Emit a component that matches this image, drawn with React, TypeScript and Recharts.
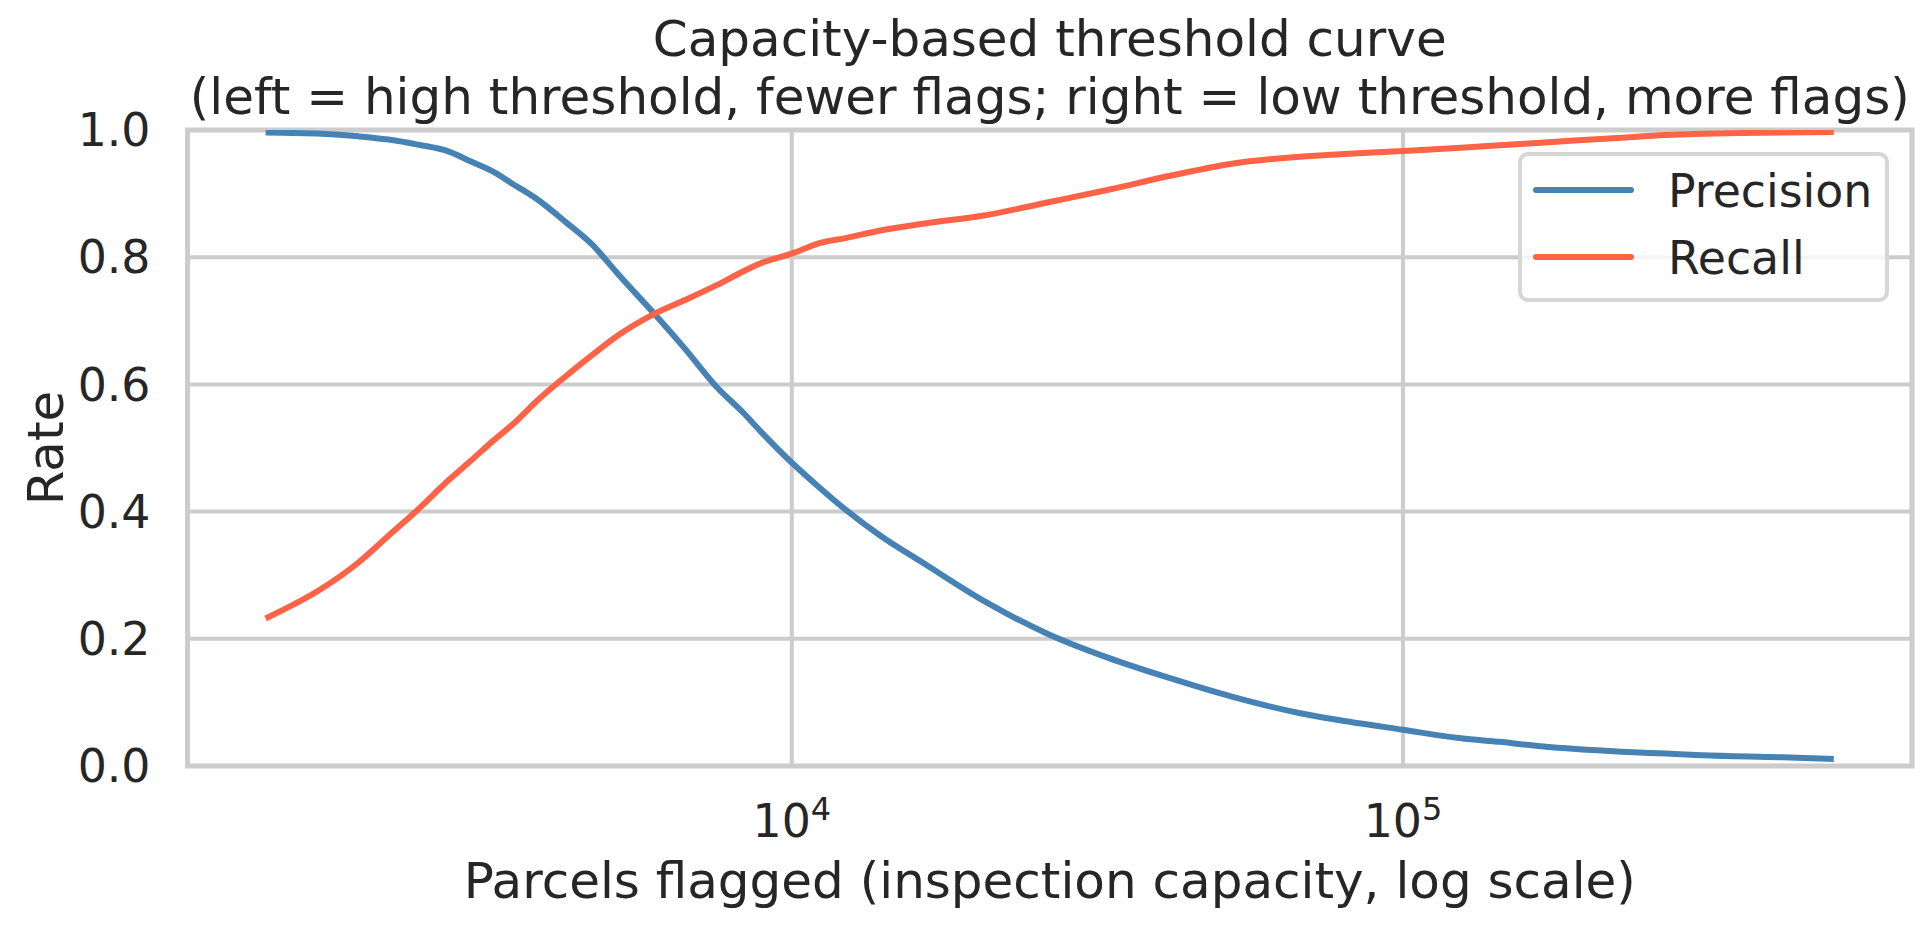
import { LineChart, Line, XAxis, YAxis, CartesianGrid, Legend, ReferenceArea } from 'recharts';

// parcels flagged (capacity) and the matching precision / recall at each point
const capacity = [
  1377, 1702, 1954, 2188, 2443, 2748, 2992, 3251, 3483, 3846,
  4256, 4710, 5212, 5957, 6699, 7534, 8337, 8913, 10023, 11092,
  12246, 13964, 16482, 20749, 26182, 32961, 41591, 52481, 67920, 78886,
  100000, 124451, 143880, 168267, 228034, 269774, 308319, 417830, 506991
];
const precision = [
  0.996, 0.994, 0.990, 0.985, 0.977, 0.966, 0.950, 0.934, 0.916, 0.890,
  0.856, 0.820, 0.772, 0.711, 0.655, 0.596, 0.555, 0.525, 0.476, 0.438,
  0.403, 0.362, 0.318, 0.258, 0.208, 0.170, 0.138, 0.109, 0.083, 0.072,
  0.057, 0.0435, 0.038, 0.031, 0.0225, 0.0195, 0.017, 0.0137, 0.011
];
const recall = [
  0.232, 0.279, 0.320, 0.362, 0.403, 0.450, 0.481, 0.512, 0.536, 0.576,
  0.612, 0.646, 0.678, 0.711, 0.733, 0.756, 0.778, 0.791, 0.806, 0.822,
  0.830, 0.842, 0.853, 0.866, 0.886, 0.906, 0.928, 0.947, 0.958, 0.962,
  0.967, 0.972, 0.976, 0.980, 0.988, 0.992, 0.994, 0.996, 0.997
];
const rateTicks = [0, 0.2, 0.4, 0.6, 0.8, 1.0];
const capacityTicks = [10000, 100000];
const xDomain = [1026, 680700];

const data = capacity.map((c, i) => ({ capacity: c, precision: precision[i], recall: recall[i] }));

const FONT = '"DejaVu Sans", sans-serif';
const INK = '#262626';
const GRID = '#cccccc';

function PowerTick({ x, y, payload }: any) {
  const exp = Math.round(Math.log10(payload.value));
  return (
    <text x={x} y={y + 71} textAnchor="middle" fontFamily={FONT} fontSize={45.8} fill={INK}>
      <tspan>10</tspan>
      <tspan dy={-17} fontSize={32}>{exp}</tspan>
    </text>
  );
}

function LegendBox({ payload }: any) {
  const items = payload || [];
  return (
    <div style={{
      width: 371,
      height: 150,
      boxSizing: 'border-box',
      border: '4px solid #d6d6d6',
      borderRadius: 10,
      background: 'rgba(255,255,255,0.8)',
      position: 'relative'
    }}>
      <svg width={371} height={150} style={{ position: 'absolute', left: -4, top: -4 }}>
        {items.map((item: any, i: number) => {
          const ly = 38 + i * 67;
          return (
            <g key={item.value}>
              <line x1={18} x2={113} y1={ly} y2={ly} stroke={item.color} strokeWidth={6} strokeLinecap="round" />
              <text x={150} y={ly + 17} fontFamily={FONT} fontSize={45.8} fill={INK}>{item.value}</text>
            </g>
          );
        })}
      </svg>
    </div>
  );
}

export default function App() {
  return (
    <div style={{ position: 'absolute', left: 0, top: 0, width: 1931, height: 926, background: '#fff' }}>
      <LineChart
        width={1931}
        height={926}
        data={data}
        margin={{ top: 130, right: 19, bottom: 100, left: 0.5 }}
      >
        <CartesianGrid stroke={GRID} strokeWidth={4} />
        <XAxis
          dataKey="capacity"
          type="number"
          scale="log"
          domain={xDomain}
          allowDataOverflow
          ticks={capacityTicks}
          tick={<PowerTick />}
          tickSize={0}
          tickMargin={0}
          axisLine={false}
          tickLine={false}
          height={60}
        />
        <YAxis
          type="number"
          domain={[0, 1]}
          allowDataOverflow
          ticks={rateTicks}
          tickFormatter={(v: number) => v.toFixed(1)}
          tick={{ fontFamily: FONT, fontSize: 45.8, fill: INK }}
          tickSize={0}
          tickMargin={37}
          axisLine={false}
          tickLine={false}
          width={187}
        />
        <Line
          type="monotoneX"
          dataKey="precision"
          name="Precision"
          stroke="#4682b4"
          strokeWidth={6}
          strokeLinejoin="round"
          dot={false}
          isAnimationActive={false}
        />
        <Line
          type="monotoneX"
          dataKey="recall"
          name="Recall"
          stroke="#ff6347"
          strokeWidth={6}
          strokeLinejoin="round"
          dot={false}
          isAnimationActive={false}
        />
        <ReferenceArea
          x1={xDomain[0]}
          x2={xDomain[1]}
          y1={0}
          y2={1}
          fill="none"
          stroke={GRID}
          strokeWidth={5}
          ifOverflow="visible"
        />
        <Legend
          layout="horizontal"
          verticalAlign="middle"
          align="center"
          content={<LegendBox />}
          wrapperStyle={{ position: 'absolute', left: 1518, top: 152, width: 371, height: 150 }}
        />
      </LineChart>
      <svg
        width={1931}
        height={926}
        style={{ position: 'absolute', left: 0, top: 0, pointerEvents: 'none' }}
        fontFamily={FONT}
        fill={INK}
      >
        <text x={1049.75} y={56} textAnchor="middle" fontSize={50}>Capacity-based threshold curve</text>
        <text x={1049.75} y={114} textAnchor="middle" fontSize={50}>
          (left = high threshold, fewer flags; right = low threshold, more flags)
        </text>
        <text x={1049.75} y={898} textAnchor="middle" fontSize={50}>
          Parcels flagged (inspection capacity, log scale)
        </text>
        <text x={63} y={448} textAnchor="middle" fontSize={50} transform="rotate(-90, 63, 448)">Rate</text>
      </svg>
    </div>
  );
}
